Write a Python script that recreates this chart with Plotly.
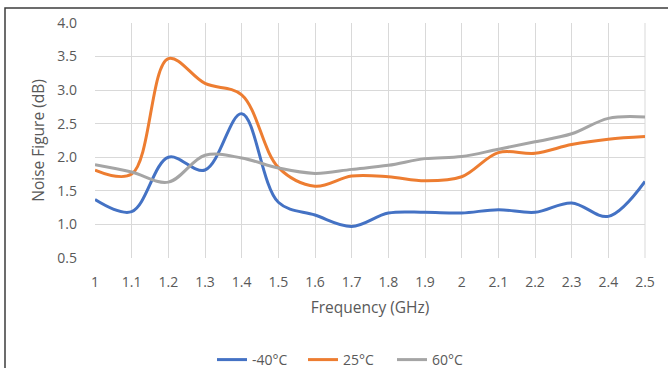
import plotly.graph_objects as go

# Frequency sweep (GHz) and measured noise figure (dB) per temperature
freq_ghz = [1.0, 1.1, 1.2, 1.3, 1.4, 1.5, 1.6, 1.7, 1.8, 1.9, 2.0, 2.1, 2.2, 2.3, 2.4, 2.5]
nf_minus40 = [1.37, 1.19, 2.00, 1.81, 2.65, 1.33, 1.14, 0.97, 1.17, 1.18, 1.17, 1.22, 1.18, 1.32, 1.12, 1.64]
nf_25 = [1.81, 1.75, 3.47, 3.10, 2.93, 1.85, 1.57, 1.72, 1.71, 1.65, 1.71, 2.07, 2.06, 2.19, 2.27, 2.31]
nf_60 = [1.89, 1.78, 1.63, 2.03, 1.99, 1.84, 1.76, 1.82, 1.88, 1.98, 2.01, 2.12, 2.23, 2.35, 2.58, 2.60]

series_names = ["-40°C", "25°C", "60°C"]
series_colors = ["#4472C4", "#ED7D31", "#A5A5A5"]
x_ticks = [1.0, 1.1, 1.2, 1.3, 1.4, 1.5, 1.6, 1.7, 1.8, 1.9, 2.0, 2.1, 2.2, 2.3, 2.4, 2.5]
x_tick_text = ["1", "1.1", "1.2", "1.3", "1.4", "1.5", "1.6", "1.7", "1.8", "1.9", "2", "2.1", "2.2", "2.3", "2.4", "2.5"]
y_ticks = [0.5, 1.0, 1.5, 2.0, 2.5, 3.0, 3.5, 4.0]

W, H = 668, 368
ML, MR, MT, MB = 95, 23, 23, 110
TEXT = "#595959"
FONT = "Open Sans"
LEGEND_LEFT_PX = [212, 303, 392]
LEGEND_IDS = ["legend", "legend2", "legend3"]

plot_w = W - ML - MR
plot_h = H - MT - MB


def px_to_paper_x(px):
    return (px - ML) / plot_w


def px_to_paper_y(py):
    return (H - MB - py) / plot_h


fig = go.Figure()
for name, vals, color, lg in zip(series_names, [nf_minus40, nf_25, nf_60], series_colors, LEGEND_IDS):
    fig.add_trace(go.Scatter(
        x=freq_ghz, y=vals, name=name, mode="lines", legend=lg,
        line=dict(color=color, width=3, shape="spline", smoothing=1.0),
        hoverinfo="skip",
    ))

# Outer chart frame (top and left edges fall inside the page)
fig.add_shape(
    type="rect", xref="paper", yref="paper",
    x0=px_to_paper_x(5), x1=px_to_paper_x(W + 20),
    y0=px_to_paper_y(H + 20), y1=px_to_paper_y(8),
    line=dict(color="#3c3c3c", width=1.5), fillcolor="rgba(0,0,0,0)", layer="below",
)

legend_style = dict(
    orientation="h", xanchor="left", yanchor="middle", y=px_to_paper_y(360),
    font=dict(family=FONT, size=14, color=TEXT),
    bgcolor="rgba(0,0,0,0)", itemclick=False, itemdoubleclick=False,
)
legends = {lg: dict(legend_style, x=px_to_paper_x(px)) for lg, px in zip(LEGEND_IDS, LEGEND_LEFT_PX)}

fig.update_layout(
    width=W, height=H,
    margin=dict(l=ML, r=MR, t=MT, b=MB, autoexpand=False),
    paper_bgcolor="white", plot_bgcolor="white",
    font=dict(family=FONT, size=14, color=TEXT),
    showlegend=True,
    **legends,
    xaxis=dict(
        range=[1.0, 2.5], tickmode="array", tickvals=x_ticks, ticktext=x_tick_text,
        showgrid=True, gridcolor="#D9D9D9", gridwidth=1,
        zeroline=False, showline=False, ticks="", ticklabelstandoff=14,
        tickfont=dict(family=FONT, size=14, color=TEXT),
        title=dict(text="Frequency (GHz)", font=dict(family=FONT, size=15.5, color=TEXT), standoff=12),
        fixedrange=True,
    ),
    yaxis=dict(
        range=[0.5, 4.0], tickmode="array", tickvals=y_ticks, tickformat=".1f",
        showgrid=True, gridcolor="#D9D9D9", gridwidth=1,
        zeroline=False, showline=False, ticks="", ticklabelstandoff=17,
        tickfont=dict(family=FONT, size=14, color=TEXT),
        title=dict(text="Noise Figure (dB)", font=dict(family=FONT, size=15.5, color=TEXT), standoff=8),
        fixedrange=True,
    ),
)

# Right edge of the grid box
fig.add_shape(type="line", xref="paper", yref="paper", x0=1, x1=1, y0=0, y1=1,
              line=dict(color="#D9D9D9", width=1), layer="below")

fig.write_html("out.html", config={"displayModeBar": False, "staticPlot": True})
